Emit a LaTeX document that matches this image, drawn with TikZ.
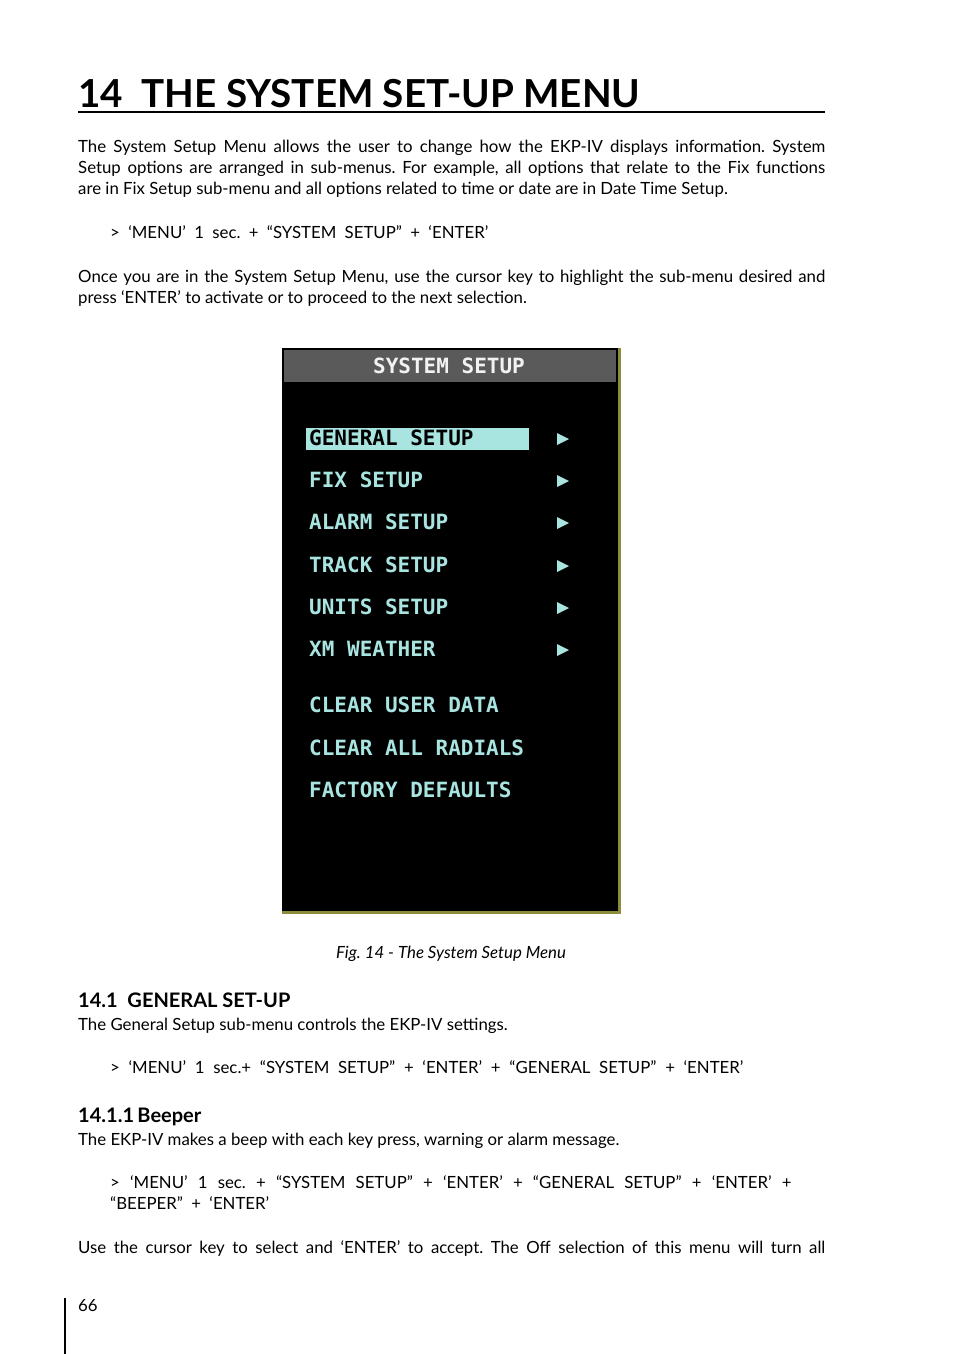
\documentclass[tikz,border=0pt]{standalone}
\usepackage{fontspec}
\usepackage{graphicx}
\setmainfont{Lato}
\newfontfamily\scr{DejaVu Sans Mono}
\definecolor{scrtxt}{HTML}{A8E4E0}
\definecolor{hdr}{HTML}{5A5A5A}
\definecolor{olive}{HTML}{8C8C3A}
\begin{document}
\frenchspacing
\begin{tikzpicture}[x=1pt,y=-1pt,
  body/.style={anchor=base west,inner sep=0,font=\fontsize{16.8}{21}\selectfont},
  item/.style={anchor=base west,inner sep=0,text=scrtxt,font=\scr\bfseries\fontsize{21}{21}\selectfont},
  arr/.style={fill=scrtxt},
  head/.style={anchor=base west,inner sep=0,font=\bfseries\fontsize{20}{24}\selectfont}]
\useasboundingbox (0,0) rectangle (954,1354);
\newcommand\J[1]{\makebox[747pt][s]{#1}}
\node[anchor=base west,inner sep=0] (title) at (78,107) {\resizebox{562pt}{!}{\bfseries 14\ \ THE SYSTEM SET-UP MENU}};
\draw[line width=1.3pt] (78,112) coordinate (u1) -- (825,112) coordinate (u2);
\node[body] (p1) at (78,152) {\J{The System Setup Menu allows the user to change how the EKP-IV displays information. System}};
\node[body] (p2) at (78,173) {\J{Setup options are arranged in sub-menus. For example, all options that relate to the Fix functions}};
\node[body] (p3) at (78,194) {are in Fix Setup sub-menu and all options related to time or date are in Date Time Setup.};
\node[body] (c1) at (110,238) {\makebox[378pt][s]{> ‘MENU’ 1 sec. + “SYSTEM SETUP” + ‘ENTER’}};
\node[body] (p4) at (78,282) {\J{Once you are in the System Setup Menu, use the cursor key to highlight the sub-menu desired and}};
\node[body] (p5) at (78,303) {press ‘ENTER’ to activate or to proceed to the next selection.};
% screen
\fill[olive] (282,348) rectangle (621,914);
\fill[black] (282,348) rectangle (618,911);
\fill[hdr] (284,350) rectangle (616,382);
\node[anchor=base,inner sep=0,text=white!90!gray,font=\scr\bfseries\fontsize{21}{21}\selectfont] (hd) at (449,373) {SYSTEM SETUP};
\fill[scrtxt] (306,428) rectangle (529,450);
\node[item,text=black] (i1) at (309,445) {GENERAL SETUP};
\node[item] (i2) at (309,487) {FIX SETUP};
\node[item] (i3) at (309,529) {ALARM SETUP};
\node[item] (i4) at (309,572) {TRACK SETUP};
\node[item] (i5) at (309,614) {UNITS SETUP};
\node[item] (i6) at (309,656) {XM WEATHER};
\node[item] (i7) at (309,712) {CLEAR USER DATA};
\node[item] (i8) at (309,755) {CLEAR ALL RADIALS};
\node[item] (i9) at (309,797) {FACTORY DEFAULTS};
\foreach \y in {439,481,523,566,608,650}{\fill[arr] (557,\y-6) -- (569,\y) -- (557,\y+6) -- cycle;}
\node[anchor=base,inner sep=0,font=\itshape\fontsize{16.8}{21}\selectfont] (cap) at (451,958) {Fig. 14 - The System Setup Menu};
\node[head] (h1) at (78,1007) {14.1\ \ GENERAL SET-UP};
\node[body] (p6) at (78,1030) {The General Setup sub-menu controls the EKP-IV settings.};
\node[body] (c2) at (110,1073) {\makebox[633pt][s]{> ‘MENU’ 1 sec.+ “SYSTEM SETUP” + ‘ENTER’ + “GENERAL SETUP” + ‘ENTER’}};
\node[head] (h2) at (78,1122) {14.1.1\,Beeper};
\node[body] (p7) at (78,1145) {The EKP-IV makes a beep with each key press, warning or alarm message.};
\node[body] (c3) at (110,1188) {\makebox[681pt][s]{> ‘MENU’ 1 sec. + “SYSTEM SETUP” + ‘ENTER’ + “GENERAL SETUP” + ‘ENTER’ +}};
\node[body] (c4) at (110,1209) {\makebox[159pt][s]{“BEEPER” + ‘ENTER’}};
\node[body] (p8) at (78,1253) {\J{Use the cursor key to select and ‘ENTER’ to accept. The Off selection of this menu will turn all}};
\draw[line width=2pt] (65,1298) coordinate (b1) -- (65,1354) coordinate (b2);
\node[body] (pg) at (78,1311) {66};
\end{tikzpicture}
\end{document}
